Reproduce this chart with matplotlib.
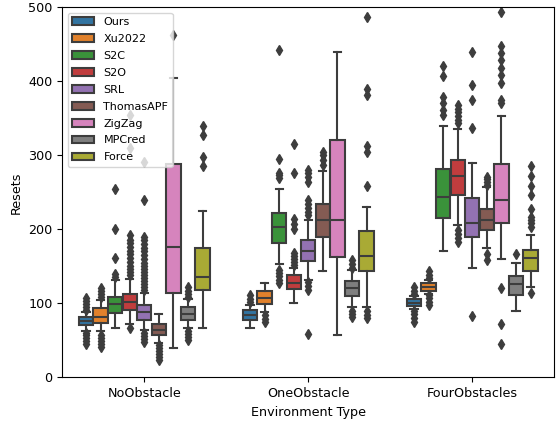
import colorsys
import numpy as np
import matplotlib
matplotlib.use("Agg")
import matplotlib.pyplot as plt
import matplotlib.patches as mpatches
import seaborn as sns

envs = ["NoObstacle", "OneObstacle", "FourObstacles"]
methods = ["Ours", "Xu2022", "S2C", "S2O", "SRL", "ThomasAPF", "ZigZag", "MPCred", "Force"]

# box stats, one row per method, columns = envs
whislo = [[62, 66, 92], [62, 88, 113], [66, 153, 171], [72, 100, 206], [64, 131, 147],
          [47, 144, 175], [39, 57, 160], [66, 95, 90], [67, 95, 122]]
q1 = [[70, 77, 96], [74, 99, 117], [87, 182, 215], [91, 119, 246], [78, 157, 189],
      [57, 189, 199], [114, 162, 208], [78, 110, 111], [118, 143, 144]]
med = [[76, 84, 101], [82, 107, 122], [99, 203, 243], [102, 128, 272], [88, 170, 208],
       [64, 213, 213], [176, 213, 240], [86, 120, 126], [136, 164, 161]]
q3 = [[82, 91, 106], [93, 116, 127], [109, 222, 281], [113, 138, 293], [98, 186, 242],
      [72, 234, 228], [288, 321, 288], [95, 130, 137], [175, 198, 172]]
whishi = [[88, 98, 110], [104, 128, 131], [132, 254, 340], [133, 148, 336], [114, 213, 289],
          [86, 279, 257], [404, 440, 353], [106, 145, 155], [225, 230, 192]]

fliers = {
    "Ours": [[91, 95, 99, 103, 107, 45, 49, 53, 57, 60],
             [102, 106, 111],
             [113, 117, 122, 75, 80, 85, 89]],
    "Xu2022": [[108, 112, 116, 121, 41, 45, 49, 53, 57],
               [75, 79, 84],
               [134, 138, 143, 98, 102, 107, 111]],
    "S2C": [[136, 139, 161, 201, 254],
            [269, 273, 276, 295, 442, 127, 132, 137, 141, 145],
            [354, 361, 370, 379, 407, 420]],
    "S2O": [[138, 142, 146, 150, 156, 161, 166, 171, 176, 181, 186, 192, 310, 354, 66],
            [152, 156, 160, 164, 168, 200, 207, 214, 276, 315],
            [343, 348, 353, 358, 363, 368, 183, 188, 194, 199]],
    "SRL": [[118, 122, 126, 130, 134, 138, 142, 146, 150, 155, 160, 165, 170, 175, 180,
             185, 190, 239, 291, 48, 52, 56, 60],
            [219, 224, 229, 234, 240, 264, 270, 276, 280, 118, 123, 129, 58],
            [337, 375, 395, 440, 83]],
    "ThomasAPF": [[43, 39, 35, 31, 27, 23],
                  [287, 294, 300, 305],
                  [260, 264, 268, 271, 158, 166]],
    "ZigZag": [[463],
               [],
               [370, 375, 397, 408, 418, 429, 438, 448, 493, 120, 72, 45]],
    "MPCred": [[109, 113, 117, 122, 50, 54, 58, 62],
               [148, 153, 158, 82, 86, 90],
               [166]],
    "Force": [[285, 298, 328, 340],
              [258, 305, 312, 382, 390, 487, 80, 84, 89],
              [203, 208, 213, 217, 228, 246, 259, 272, 286, 114]],
}

colors = sns.color_palette("tab10", len(methods), desat=0.75)
lum = min(colorsys.rgb_to_hls(*c)[1] for c in colors) * 0.6
gray = (lum, lum, lum)

fig, ax = plt.subplots(figsize=(5.56, 4.23), dpi=100)
fig.subplots_adjust(left=0.112, right=0.997, bottom=0.108, top=0.983)

n = len(methods)
w = 0.8 / n
for j, m in enumerate(methods):
    stats = []
    for i in range(len(envs)):
        stats.append(dict(whislo=whislo[j][i], q1=q1[j][i], med=med[j][i],
                          q3=q3[j][i], whishi=whishi[j][i], fliers=fliers[m][i]))
    pos = np.arange(len(envs)) + (j - (n - 1) / 2) * w
    ax.bxp(stats, positions=pos, widths=w * 0.98, patch_artist=True,
           manage_ticks=False,
           boxprops=dict(facecolor=colors[j], edgecolor=gray, linewidth=1.5),
           medianprops=dict(color=gray, linewidth=1.5),
           whiskerprops=dict(color=gray, linewidth=1.5),
           capprops=dict(color=gray, linewidth=1.5),
           flierprops=dict(marker="d", markerfacecolor=gray, markeredgecolor=gray,
                           markersize=5, linestyle="none"))

ax.set_xticks(range(len(envs)))
ax.set_xticklabels(envs, fontsize=9.2)
ax.tick_params(axis="y", labelsize=9.2)
ax.set_xlim(-0.5, len(envs) - 0.5)
ax.set_ylim(0, 500)
ax.set_xlabel("Environment Type", fontsize=9.2)
ax.set_ylabel("Resets", fontsize=9.2)

handles = [mpatches.Patch(facecolor=c, edgecolor=gray, linewidth=1.5, label=m)
           for c, m in zip(colors, methods)]
ax.legend(handles=handles, loc="upper left", fontsize=8, labelspacing=0.62)

fig.savefig("out.png", dpi=100)
